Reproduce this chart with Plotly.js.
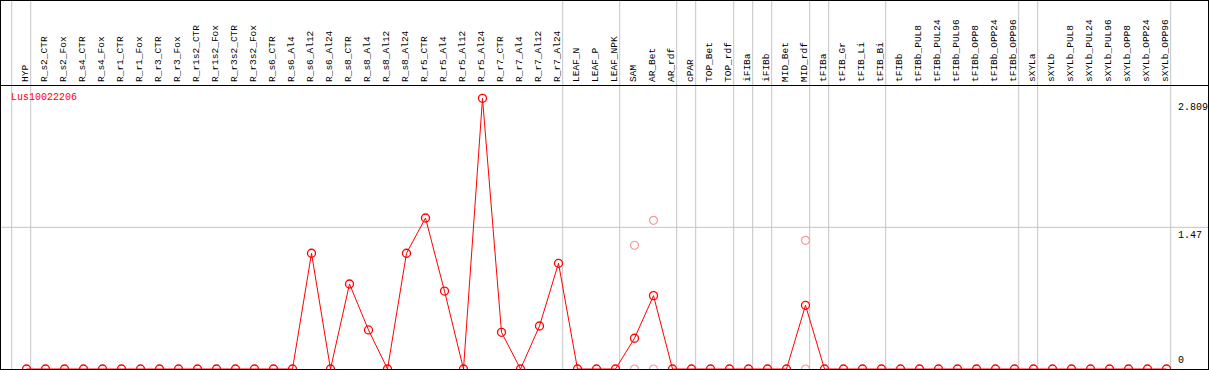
<!DOCTYPE html>
<html><head><meta charset="utf-8">
<script src="https://cdn.plot.ly/plotly-3.0.1.min.js"></script>
<style>html,body{margin:0;padding:0;background:#fff;overflow:hidden;} #chart{width:1209px;height:370px;}</style>
</head><body><div id="chart"></div>
<script>
const categories = ['HYP','R_s2_CTR','R_s2_Fox','R_s4_CTR','R_s4_Fox','R_r1_CTR','R_r1_Fox','R_r3_CTR','R_r3_Fox',
  'R_r1s2_CTR','R_r1s2_Fox','R_r3s2_CTR','R_r3s2_Fox','R_s6_CTR','R_s6_Al4','R_s6_Al12','R_s6_Al24',
  'R_s8_CTR','R_s8_Al4','R_s8_Al12','R_s8_Al24','R_r5_CTR','R_r5_Al4','R_r5_Al12','R_r5_Al24',
  'R_r7_CTR','R_r7_Al4','R_r7_Al12','R_r7_Al24','LEAF_N','LEAF_P','LEAF_NPK','SAM','AR_Bet','AR_rdf',
  'cPAR','TOP_Bet','TOP_rdf','iFIBa','iFIBb','MID_Bet','MID_rdf','tFIBa','tFIB_Gr','tFIB_Li','tFIB_Bi',
  'tFIBb','tFIBb_PUL8','tFIBb_PUL24','tFIBb_PUL96','tFIBb_OPP8','tFIBb_OPP24','tFIBb_OPP96',
  'sXYLa','sXYLb','sXYLb_PUL8','sXYLb_PUL24','sXYLb_PUL96','sXYLb_OPP8','sXYLb_OPP24','sXYLb_OPP96'];

const meanValues = [0,0,0,0,0,0,0,0,0,
  0,0,0,0,0,0,1.201,0,
  0.882,0.405,0,1.201,1.567,0.809,0,2.809,
  0.381,0,0.446,1.097,0,0,0,0.319,0.761,0,
  0,0,0,0,0,0,0.661,0,0,0,0,
  0,0,0,0,0,0,0,
  0,0,0,0,0,0,0,0];

const repCategories = ['SAM','SAM','AR_Bet','AR_Bet','MID_rdf','MID_rdf'];
const repValues = [1.284,0,1.543,0,1.335,0];

const groupEnds = ['HYP','R_r7_Al24','LEAF_NPK','AR_rdf','cPAR','TOP_rdf','iFIBa','iFIBb','MID_rdf',
  'tFIBa','tFIB_Bi','tFIBb_OPP96','sXYLa','sXYLb_OPP96'];
const yTicks = [2.809, 1.47, 0];
const yTickText = ['2.809','1.47','0'];
const gridValue = 1.47;
const seriesName = 'Lus10022206';

const mono = '"Liberation Mono", "DejaVu Sans Mono", monospace';
const W = 1209, H = 370;
const lineOffset = 0.221;

const shapes = [];
const sepIdx = [-1].concat(groupEnds.map(c => categories.indexOf(c)));
sepIdx.forEach(i => {
  shapes.push({type:'line', xref:'x', yref:'paper', x0:i+lineOffset, x1:i+lineOffset, y0:0, y1:1,
    line:{color:'#c4c4c4', width:1}, layer:'below'});
});
shapes.push({type:'line', xref:'paper', yref:'y', x0:0, x1:1, y0:gridValue, y1:gridValue,
  line:{color:'#c4c4c4', width:1}, layer:'below'});
const px = v => v / W, py = v => 1 - v / H;
[[0.5,0.5,W-0.5,0.5],[0.5,85.5,W-0.5,85.5],[0.5,369.5,W-0.5,369.5],[0.5,0,0.5,H],[W-0.5,0,W-0.5,H]].forEach(s => {
  shapes.push({type:'line', xref:'paper', yref:'paper', x0:px(s[0]), y0:py(s[1]), x1:px(s[2]), y1:py(s[3]),
    line:{color:'#000', width:1}, layer:'above'});
});

const annotations = [{
  xref:'paper', yref:'paper', x:px(9), y:py(98), xanchor:'left', yanchor:'middle',
  text:seriesName, showarrow:false, font:{family:mono, size:10, color:'#ff0000'}
}];
yTicks.forEach((v, k) => {
  const bottom = v === 0;
  annotations.push({xref:'paper', yref:'y', x:px(1176), y:v, xanchor:'left',
    yanchor: bottom ? 'bottom' : 'top', yshift: bottom ? 1 : (k === 0 ? -2 : -1),
    text:yTickText[k], showarrow:false, font:{family:mono, size:10, color:'#000'}});
});

const traces = [
  {x:repCategories, y:repValues, type:'scatter', mode:'markers', hoverinfo:'skip',
   marker:{symbol:'circle-open', size:8, color:'#f29a9a', line:{width:1.2, color:'#f29a9a'}}},
  {x:categories, y:meanValues, type:'scatter', mode:'lines+markers', name:seriesName,
   line:{color:'#ff0000', width:1},
   marker:{symbol:'circle-open', size:8, color:'#ff0000', line:{width:1.3, color:'#ff0000'}}}
];

const layout = {
  width:W, height:H, margin:{l:0, r:0, t:0, b:0, pad:0},
  paper_bgcolor:'#fff', plot_bgcolor:'rgba(0,0,0,0)', showlegend:false,
  xaxis:{type:'category', categoryorder:'array', categoryarray:categories,
    range:[-26.5/19, (W-26.5)/19], side:'top', anchor:'y', tickangle:-90,
    ticks:'', ticklen:0, showgrid:false, zeroline:false, showline:false, ticklabelstandoff:2,
    ticklabelshift:-2,
    tickfont:{family:mono, size:9.5, color:'#000'}, automargin:false},
  yaxis:{domain:[0, 285/370], range:[-1/96.37, 285/96.37 - 1/96.37], showgrid:false, zeroline:false,
    showticklabels:false, ticks:'', showline:false, fixedrange:true},
  shapes:shapes, annotations:annotations
};
Plotly.newPlot('chart', traces, layout, {staticPlot:true, displayModeBar:false});
</script></body></html>
